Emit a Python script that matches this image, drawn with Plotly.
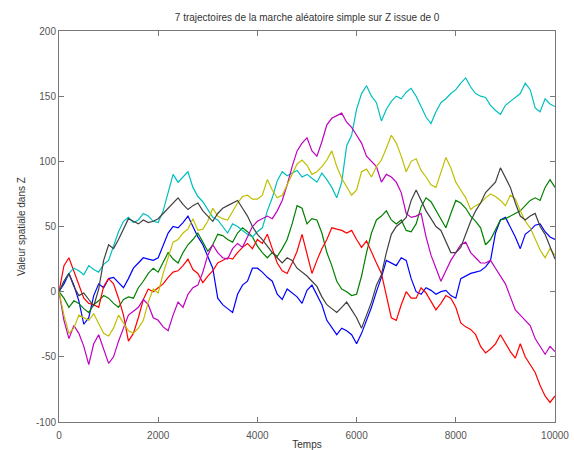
import plotly.graph_objects as go

steps = list(range(0, 10001, 100))

blue = [0, 6, 14, 5, -7, -25, -20, -3, 6, 3, 10, 11, 7, 3, 10, 18, 22, 26, 25, 24,
        26, 36, 45, 50, 49, 53, 58, 50, 42, 36, 27, 18, -5, -10, -13, -16, -2, 5, 8, 18,
        18, 15, 11, 8, -2, -6, 2, -1, -4, -9, 1, 5, -2, -10, -22, -28, -33, -28, -30, -33,
        -40, -32, -22, -12, 0, 11, 24, 22, 20, 26, 24, 10, 0, -2, 3, 1, -2, 0, 1, -3,
        -5, 10, 12, 14, 15, 16, 19, 24, 45, 55, 57, 50, 42, 33, 44, 47, 51, 52, 46, 42, 40]

green = [0, -5, -12, -7, -9, -13, -16, -10, -7, -3, -5, -9, -12, -6, -4, -5, 3, 8, 14, 18,
         15, 22, 30, 25, 22, 30, 36, 40, 45, 38, 31, 36, 44, 43, 40, 38, 45, 49, 46, 42,
         35, 30, 26, 30, 27, 33, 40, 52, 66, 64, 52, 56, 55, 45, 30, 20, 8, 2, 0, -3,
         -2, 12, 30, 45, 55, 58, 62, 55, 52, 55, 47, 46, 52, 65, 72, 69, 62, 55, 49, 60,
         70, 68, 64, 58, 54, 49, 36, 40, 47, 55, 56, 58, 60, 62, 66, 70, 72, 70, 80, 86, 80]

red = [0, 20, 26, 16, 5, -5, -9, -10, -12, 4, 10, 6, -5, -18, -38, -32, -20, -6, 2, 0,
       3, 6, 11, 15, 16, 20, 25, 17, 14, 7, 12, 16, 22, 24, 26, 25, 30, 34, 37, 33,
       40, 37, 44, 33, 22, 16, 14, 22, 31, 44, 30, 14, 24, 33, 40, 49, 48, 47, 45, 47,
       40, 34, 39, 30, 22, 14, -4, -20, -22, -10, 0, -5, -5, 3, -1, -8, -14, -9, -3, -5,
       -12, -24, -27, -29, -33, -42, -47, -44, -40, -33, -40, -46, -51, -40, -50, -56, -62, -72, -80, -85, -80]

cyan = [0, 8, 14, 18, 16, 13, 20, 17, 15, 21, 24, 35, 46, 54, 57, 53, 55, 60, 58, 54,
        53, 62, 76, 90, 84, 88, 92, 80, 73, 69, 63, 57, 55, 50, 45, 52, 50, 47, 44, 42,
        46, 49, 62, 72, 85, 92, 89, 91, 93, 88, 90, 87, 84, 91, 86, 80, 72, 84, 112, 120,
        140, 152, 158, 150, 145, 131, 140, 146, 150, 148, 153, 156, 150, 142, 134, 129, 138, 145, 148, 152,
        155, 160, 164, 157, 152, 150, 149, 143, 139, 136, 143, 146, 149, 152, 160, 155, 141, 138, 148, 144, 142]

magenta = [0, -22, -36, -26, -32, -42, -56, -40, -33, -44, -55, -50, -38, -28, -18, -15, -12, -6, -10, -20,
           -22, -27, -30, -18, -8, -12, -2, 3, 5, 15, 28, 36, 30, 26, 25, 33, 37, 34, 42, 50,
           54, 56, 58, 56, 62, 70, 82, 96, 108, 114, 118, 108, 104, 115, 128, 133, 135, 137, 130, 126,
           120, 114, 104, 100, 96, 84, 90, 88, 84, 76, 60, 57, 58, 60, 42, 28, 18, 8, 16, 24,
           30, 36, 38, 30, 26, 22, 22, 24, 18, 12, 6, -4, -14, -18, -22, -26, -36, -42, -48, -42, -46]

yellow = [0, -18, -32, -28, -18, -20, -22, -17, -24, -32, -34, -28, -18, -24, -30, -32, -28, -22, -8, 2,
          -1, 14, 26, 38, 40, 45, 48, 56, 47, 48, 54, 64, 58, 56, 55, 62, 68, 73, 74, 71,
          71, 74, 86, 78, 72, 74, 82, 90, 98, 101, 97, 90, 92, 96, 101, 108, 96, 87, 80, 74,
          78, 92, 94, 88, 96, 101, 110, 120, 114, 104, 92, 100, 102, 93, 88, 82, 80, 92, 103, 95,
          84, 78, 72, 63, 66, 68, 72, 75, 73, 70, 66, 74, 71, 62, 54, 49, 40, 32, 26, 33, 28]

gray = [0, 8, 14, 4, -3, -1, -6, -11, 2, 24, 36, 33, 40, 48, 56, 54, 52, 55, 53, 54,
        56, 60, 64, 68, 72, 67, 63, 66, 68, 62, 58, 54, 60, 64, 66, 68, 70, 64, 58, 50,
        44, 40, 35, 30, 26, 22, 26, 24, 18, 15, 12, 8, 4, -4, -10, -13, -16, -12, -8, -14,
        -20, -28, -18, -8, 5, 13, 30, 44, 50, 53, 57, 70, 78, 70, 62, 56, 50, 47, 38, 30,
        30, 34, 44, 54, 62, 68, 76, 80, 84, 95, 88, 80, 68, 58, 55, 58, 60, 50, 44, 34, 25]

series = [
    ("blue", blue, "#0000ff"),
    ("green", green, "#008000"),
    ("red", red, "#ff0000"),
    ("cyan", cyan, "#00bfbf"),
    ("magenta", magenta, "#bf00bf"),
    ("yellow", yellow, "#bfbf00"),
    ("gray", gray, "#404040"),
]

x_ticks = [0, 2000, 4000, 6000, 8000, 10000]
x_tick_labels = ["0", "2000", "4000", "6000", "8000", "10000"]
y_ticks = [-100, -50, 0, 50, 100, 150, 200]
y_tick_labels = ["-100", "-50", "0", "50", "100", "150", "200"]

title_text = "7 trajectoires de la marche aléatoire simple sur Z issue de 0"
x_label = "Temps"
y_label = "Valeur spatiale dans Z"

fig = go.Figure()
for name, vals, col in series:
    fig.add_trace(go.Scatter(x=steps, y=vals, mode="lines", name=name,
                             line=dict(color=col, width=1.2), showlegend=False))

font_family = "Liberation Sans, Arial, sans-serif"
axis_common = dict(showline=True, linecolor="#777777", linewidth=1, mirror="ticks",
                   ticks="inside", ticklen=5, tickcolor="#777777", tickwidth=1,
                   showgrid=False, zeroline=False, automargin=False,
                   tickfont=dict(family=font_family, size=10, color="#555555"))

fig.update_layout(
    width=574, height=450,
    margin=dict(l=59, r=19, t=31, b=28),
    paper_bgcolor="white", plot_bgcolor="white",
    title=dict(text=title_text, x=0.535, xanchor="center", y=1 - 17 / 450, yanchor="middle",
               automargin=False,
               font=dict(family=font_family, size=10, color="#333333")),
    xaxis=dict(range=[0, 10000], tickvals=x_ticks, ticktext=x_tick_labels, ticklabelstandoff=4,
               **axis_common,
               title=dict(text=x_label, standoff=2, font=dict(family=font_family, size=10, color="#333333"))),
    yaxis=dict(range=[-100, 200], tickvals=y_ticks, ticktext=y_tick_labels,
               **axis_common,
               title=dict(text=y_label, standoff=8, font=dict(family=font_family, size=10, color="#333333"))),
)

fig.write_html("out.html")
